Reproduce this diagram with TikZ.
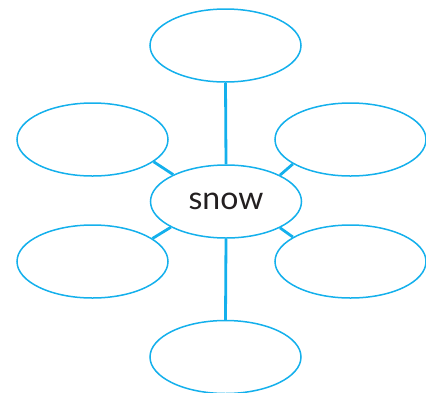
\documentclass[tikz,border=0pt]{standalone}
\usepackage{fontspec}
\setmainfont{Lato}
\usetikzlibrary{shapes.geometric}
\definecolor{webblue}{RGB}{20,176,236}
\definecolor{inkgray}{RGB}{35,31,32}
\begin{document}
\begin{tikzpicture}[x=1pt,y=-1pt,
  bubble/.style={ellipse,draw=webblue,line width=1.5pt,fill=white,
    minimum width=151pt,minimum height=73pt,inner sep=0pt},
  link/.style={draw=webblue,line width=2.8pt}]
\useasboundingbox (0,0) rectangle (426,392);
\node[bubble,text=inkgray] (c) at (226,201.5) {\fontsize{32pt}{34pt}\selectfont snow};
\node[bubble] (t) at (225.5,45.5) {};
\node[bubble] (b) at (225.5,357) {};
\node[bubble] (lu) at (92.5,139.5) {};
\node[bubble] (ll) at (92.5,261.5) {};
\node[bubble] (ru) at (350.5,139.5) {};
\node[bubble] (rl) at (350.5,261.5) {};
\draw[link] (t.south) -- (c.north);
\draw[link] (c.south) -- (b.north);
\draw[link] (lu.-20) -- (c.153);
\draw[link] (ll.21) -- (c.-155);
\draw[link] (ru.-157) -- (c.26);
\draw[link] (rl.157) -- (c.-26);
\end{tikzpicture}
\end{document}
